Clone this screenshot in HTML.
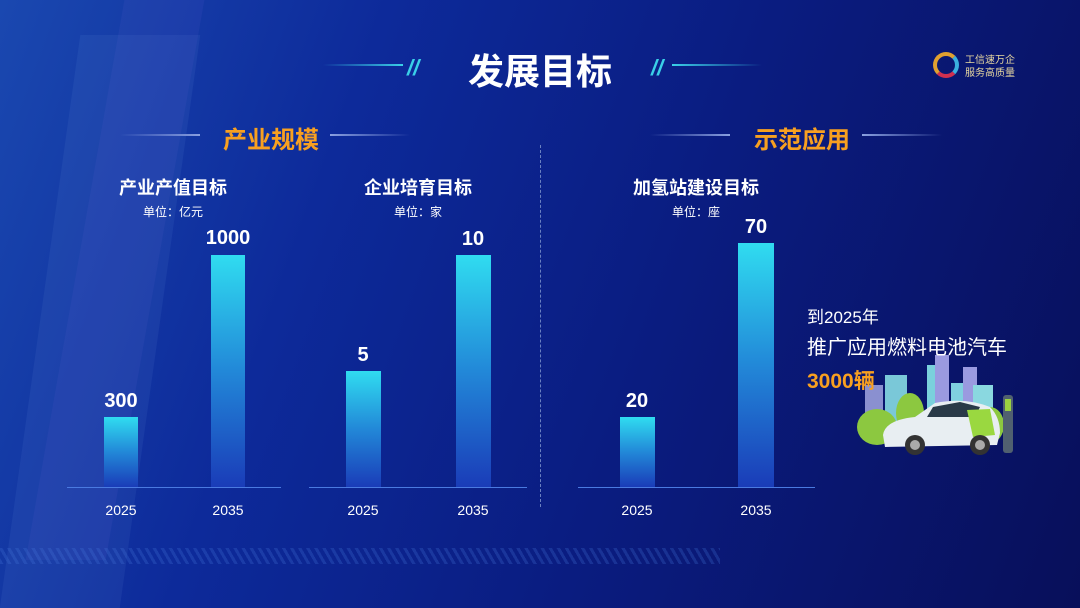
<!DOCTYPE html>
<html><head><meta charset="utf-8"><style>
*{margin:0;padding:0;box-sizing:border-box}
body{width:1080px;height:608px;overflow:hidden;position:relative;font-family:"Liberation Sans","Noto Sans CJK SC",sans-serif;color:#fff;
background:linear-gradient(110deg,#1a48b0 0%,#0d2a9a 30%,#0a1c80 60%,#080f5a 100%)}
.a{position:absolute}
.t{position:absolute;transform:translateX(-50%);white-space:nowrap;text-align:center}
.bar{position:absolute;background:linear-gradient(180deg,#30dcf0 0%,#2288d8 50%,#1a3cb8 100%)}
.ax{position:absolute;height:1px;background:#4a7ae0}
.v{font-weight:bold;font-size:20px}
.y{font-size:14px}
.h{font-weight:bold;font-size:18px}
.u{font-size:12px}
.o{color:#f8a020;font-weight:bold;font-size:24px}
.ln{position:absolute;height:2px}
</style></head><body>
<div class="a" style="left:40px;top:35px;width:120px;height:573px;background:rgba(120,170,230,0.09);transform:skewX(-8deg)"></div>
<div class="a" style="left:75px;top:0;width:80px;height:560px;background:rgba(140,120,230,0.08);transform:skewX(-10deg)"></div>
<div class="a" style="left:0;top:548px;width:720px;height:16px;background:repeating-linear-gradient(60deg,rgba(70,120,220,0.25) 0 3px,transparent 3px 7px)"></div>

<div class="ln" style="left:323px;top:64px;width:80px;background:linear-gradient(90deg,transparent,#3ad0e8)"></div>
<div class="a" style="left:407px;top:55px;color:#3ad0e8;font-weight:bold;font-size:22px;font-style:italic">//</div>
<div class="t" style="left:540px;top:43px;font-size:36px;font-weight:bold">发展目标</div>
<div class="a" style="left:651px;top:55px;color:#3ad0e8;font-weight:bold;font-size:22px;font-style:italic">//</div>
<div class="ln" style="left:672px;top:64px;width:90px;background:linear-gradient(90deg,#3ad0e8,transparent)"></div>
<div class="a" style="left:933px;top:52px;width:26px;height:26px;border-radius:50%;border:4px solid #e0a030;border-right-color:#3ab0e0;border-bottom-color:#d03050"></div>
<div class="a" style="left:965px;top:54px;font-size:10px;line-height:13px;color:#e8d8a0">工信速万企<br>服务高质量</div>

<div class="ln" style="left:120px;top:134px;width:80px;background:linear-gradient(90deg,transparent,#8aa0e0)"></div>
<div class="t o" style="left:271px;top:120px">产业规模</div>
<div class="ln" style="left:330px;top:134px;width:80px;background:linear-gradient(90deg,#8aa0e0,transparent)"></div>
<div class="ln" style="left:650px;top:134px;width:80px;background:linear-gradient(90deg,transparent,#8aa0e0)"></div>
<div class="t o" style="left:802px;top:120px">示范应用</div>
<div class="ln" style="left:862px;top:134px;width:80px;background:linear-gradient(90deg,#8aa0e0,transparent)"></div>
<div class="a" style="left:540px;top:145px;height:362px;border-left:1px dashed #6a80c0"></div>

<div class="t h" style="left:173px;top:174px">产业产值目标</div>
<div class="t u" style="left:173px;top:203px">单位：亿元</div>
<div class="t h" style="left:418px;top:174px">企业培育目标</div>
<div class="t u" style="left:418px;top:203px">单位：家</div>
<div class="t h" style="left:696px;top:174px">加氢站建设目标</div>
<div class="t u" style="left:696px;top:203px">单位：座</div>

<div class="bar" style="left:104px;top:417px;width:34px;height:70px"></div>
<div class="bar" style="left:211px;top:255px;width:34px;height:232px"></div>
<div class="bar" style="left:346px;top:371px;width:35px;height:116px"></div>
<div class="bar" style="left:456px;top:255px;width:35px;height:232px"></div>
<div class="bar" style="left:620px;top:417px;width:35px;height:70px"></div>
<div class="bar" style="left:738px;top:243px;width:36px;height:244px"></div>
<div class="ax" style="left:67px;top:487px;width:214px"></div>
<div class="ax" style="left:309px;top:487px;width:218px"></div>
<div class="ax" style="left:578px;top:487px;width:237px"></div>

<div class="t v" style="left:121px;top:390px">300</div>
<div class="t v" style="left:228px;top:227px">1000</div>
<div class="t v" style="left:363px;top:344px">5</div>
<div class="t v" style="left:473px;top:228px">10</div>
<div class="t v" style="left:637px;top:390px">20</div>
<div class="t v" style="left:756px;top:216px">70</div>
<div class="t y" style="left:121px;top:502px">2025</div>
<div class="t y" style="left:228px;top:502px">2035</div>
<div class="t y" style="left:363px;top:502px">2025</div>
<div class="t y" style="left:473px;top:502px">2035</div>
<div class="t y" style="left:637px;top:502px">2025</div>
<div class="t y" style="left:756px;top:502px">2035</div>

<svg class="a" style="left:855px;top:355px" width="170" height="105">
<rect x="10" y="30" width="18" height="50" fill="#8a90d0"/>
<rect x="30" y="20" width="22" height="60" fill="#7ac8d8"/>
<rect x="72" y="10" width="20" height="70" fill="#7ad0dc"/>
<rect x="80" y="0" width="14" height="80" fill="#9a9ae0"/>
<rect x="96" y="28" width="18" height="52" fill="#80d0e0"/>
<rect x="108" y="12" width="14" height="68" fill="#9a9ae0"/>
<rect x="118" y="30" width="20" height="50" fill="#8ad8e0"/>
<ellipse cx="22" cy="72" rx="20" ry="18" fill="#8cc840"/>
<ellipse cx="55" cy="58" rx="14" ry="20" fill="#8cc840"/>
<ellipse cx="135" cy="70" rx="14" ry="18" fill="#8cc840"/>
<rect x="148" y="40" width="10" height="58" rx="3" fill="#506070"/>
<rect x="150" y="44" width="6" height="12" fill="#9ad040"/>
<path d="M28 80 Q30 65 60 62 L80 48 Q110 42 135 52 Q145 62 145 78 L142 90 L30 92 Z" fill="#e8eef2"/>
<path d="M78 52 L105 47 L125 52 L120 62 L72 62 Z" fill="#2a3a48"/>
<path d="M112 55 L135 54 L140 80 L118 82 Z" fill="#9ad840"/>
<circle cx="60" cy="90" r="10" fill="#333"/><circle cx="60" cy="90" r="5" fill="#aaa"/>
<circle cx="125" cy="90" r="10" fill="#333"/><circle cx="125" cy="90" r="5" fill="#aaa"/>
</svg>
<div class="a" style="left:807px;top:303px;font-size:17px">到2025年</div>
<div class="a" style="left:807px;top:331px;font-size:20px">推广应用燃料电池汽车</div>
<div class="a" style="left:807px;top:365px;font-size:21px;font-weight:bold;color:#f8a020">3000辆</div>
</body></html>
